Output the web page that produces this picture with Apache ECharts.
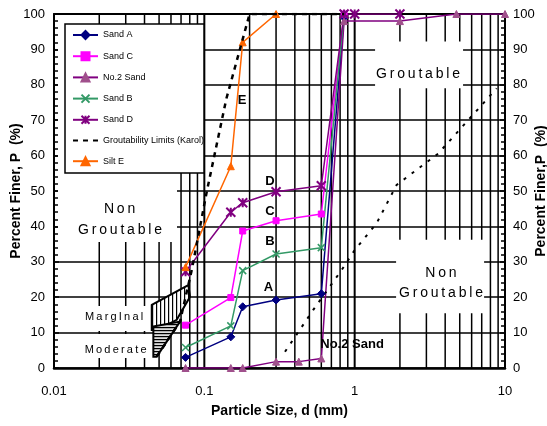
<!DOCTYPE html>
<html><head><meta charset="utf-8">
<script src="https://cdn.jsdelivr.net/npm/echarts@6/dist/echarts.min.js"></script>
<style>html,body{margin:0;padding:0;background:#fff}#c{width:547px;height:426px}</style>
</head><body><div id="c"></div>
<script>
// ---------- data ----------
const xTickLabels = ['0.01', '0.1', '1', '10'];
const gridSizes = [0.02,0.03,0.04,0.05,0.06,0.07,0.08,0.09,0.1,0.2,0.3,0.4,0.5,0.6,0.7,0.8,0.9,1,2,3,4,5,6,7,8,9];

const sizesABC = [0.075, 0.15, 0.18, 0.3, 0.6, 0.85];
const sandA = [3, 8.8, 17.3, 19.2, 21, 99];
const sandC = [12.1, 19.9, 38.7, 41.6, 43.5, 100];
const sandB = [5.8, 11.9, 27.5, 32.2, 34, 100];
const sizesD = [0.075, 0.15, 0.18, 0.3, 0.6, 0.85, 1.0, 2.0];
const sandD = [27.2, 44, 46.7, 49.8, 51.5, 100, 100, 100];
const sizesNo2 = [0.075, 0.15, 0.18, 0.3, 0.425, 0.6, 0.85, 2.0, 4.75, 10];
const no2Sand = [0, 0, 0, 1.8, 1.8, 2.7, 98, 98, 100, 100];
const sizesE = [0.075, 0.15, 0.18, 0.3];
const siltE = [28.5, 57, 92, 100];
const karolLeftSizes = [0.0482, 0.0689, 0.0725, 0.0825, 0.104, 0.14, 0.2, 0.85];
const karolLeft = [3.2, 13.1, 17.3, 27.7, 50, 76, 100, 100];
const karolRightSizes = [0.344, 0.53, 0.82, 1.0, 1.4, 1.9, 3.6, 8.8];
const karolRight = [4.6, 16.4, 27.7, 33.3, 40.9, 51.7, 60.6, 79];
const hatchMarginal = [[0.0447,17.8],[0.0783,23.4],[0.0803,20.1],[0.0655,13.6],[0.0482,10.7],[0.0447,10.7]];
const hatchModerate = [[0.0458,11.7],[0.0689,13.1],[0.0482,3.2],[0.0458,3.2]];

const zip = (xs, ys) => xs.map((x, i) => [x, ys[i]]);

// ---------- helpers ----------
function makePattern(vertical, spacing, bg) {
  const c = document.createElement('canvas');
  c.width = spacing; c.height = spacing;
  const ctx = c.getContext('2d');
  if (bg) { ctx.fillStyle = bg; ctx.fillRect(0, 0, spacing, spacing); }
  ctx.fillStyle = '#000';
  if (vertical) ctx.fillRect(0, 0, 1.2, spacing); else ctx.fillRect(0, 0, spacing, 1.2);
  return c;
}
const spaced = s => s.split('').join('\u2009');
const SANS = '"Liberation Sans", Arial, sans-serif';

const masks = [
  [0.01063, 0.0658, 35.6, 97.2],
  [1.367, 5.26, 79.0, 92.2],
  [1.886, 7.26, 15.5, 36.2],
  [0.01063, 0.0442, 10.45, 17.5],
  [0.01063, 0.0442, 2.8, 9.6]
];
const regionTexts = [
  ['Groutable', 2.64, 83.0, 14],
  ['Non', 3.75, 26.9, 14],
  ['Groutable', 3.75, 21.1, 14],
  ['Non', 0.0273, 44.8, 14],
  ['Groutable', 0.0275, 39.0, 14],
  ['MargInal', 0.0251, 14.5, 11],
  ['Moderate', 0.0257, 5.1, 11]
];
const curveTexts = [
  ['E', 0.178, 75.7], ['D', 0.2736, 52.6], ['C', 0.2736, 44.2],
  ['B', 0.2736, 35.7], ['A', 0.2666, 22.7], ['No.2 Sand', 0.961, 6.8]
];

const chart = echarts.init(document.getElementById('c'), null, {renderer: 'canvas'});

function lineSeries(name, data, color, symbol, size, extra) {
  return Object.assign({
    name, type: 'line', data, symbol, symbolSize: size, z: 4,
    lineStyle: {color, width: 1.5},
    itemStyle: {color, borderColor: color, borderWidth: 1},
    emphasis: {disabled: true}
  }, extra || {});
}

const option = {
  animation: false,
  backgroundColor: '#fff',
  grid: {left: 54, right: 42, top: 14, bottom: 58, containLabel: false, outerBoundsMode: 'none'},
  legend: {
    data: ['Sand A', 'Sand C', 'No.2 Sand', 'Sand B', 'Sand D',
      {name: 'Groutability Limits (Karol)', itemStyle: {color: 'rgba(0,0,0,0)', borderColor: 'rgba(0,0,0,0)', borderWidth: 0}},
      'Silt E'],
    orient: 'vertical', left: 72, top: 30, padding: 0,
    itemWidth: 25, itemHeight: 10, itemGap: 11.2, z: 12,
    textStyle: {fontFamily: SANS, fontSize: 9, color: '#000'},
    selectedMode: false
  },
  graphic: [{
    type: 'rect', z: 10, shape: {x: 65, y: 24, width: 139, height: 149},
    style: {fill: '#fff', stroke: '#000', lineWidth: 1.5}
  }],
  xAxis: [{
    type: 'log', logBase: 10, min: 0.01, max: 10, position: 'bottom',
    axisLine: {show: true, lineStyle: {color: '#000', width: 2.5}},
    axisTick: {show: false}, splitLine: {show: false},
    axisLabel: {margin: 17, fontFamily: SANS, fontSize: 13, color: '#000',
      formatter: v => { const s = xTickLabels.find(t => Math.abs(+t - v) < v * 1e-6); return s || ''; }},
    name: 'Particle Size, d (mm)', nameLocation: 'middle', nameGap: 36, nameMoveOverlap: false,
    nameTextStyle: {fontFamily: SANS, fontWeight: 'bold', fontSize: 14, color: '#000'}
  }, {
    type: 'log', logBase: 10, min: 0.01, max: 10, position: 'top',
    axisLine: {show: true, onZero: false, lineStyle: {color: '#000', width: 2}},
    axisTick: {show: false}, axisLabel: {show: false}, splitLine: {show: false}
  }],
  yAxis: [{
    type: 'value', min: 0, max: 100, interval: 10, position: 'left',
    axisLine: {show: true, lineStyle: {color: '#000', width: 2}},
    axisTick: {show: true, inside: true, length: 5, lineStyle: {color: '#000', width: 1.5}},
    minorTick: {show: true, splitNumber: 5, length: 4, lineStyle: {color: '#000', width: 1.5}},
    splitLine: {show: true, lineStyle: {color: '#000', width: 1.5}},
    axisLabel: {margin: 9, fontFamily: SANS, fontSize: 13, color: '#000'},
    name: 'Percent Finer, P  (%)', nameLocation: 'middle', nameGap: 31, nameRotate: 90, nameMoveOverlap: false,
    nameTextStyle: {fontFamily: SANS, fontWeight: 'bold', fontSize: 14, color: '#000'}
  }, {
    type: 'value', min: 0, max: 100, interval: 10, position: 'right',
    axisLine: {show: true, lineStyle: {color: '#000', width: 2}},
    axisTick: {show: true, inside: true, length: 5, lineStyle: {color: '#000', width: 1.5}},
    minorTick: {show: true, splitNumber: 5, length: 4, lineStyle: {color: '#000', width: 1.5}},
    splitLine: {show: false},
    axisLabel: {margin: 8, fontFamily: SANS, fontSize: 13, color: '#000'},
    name: 'Percent Finer,P  (%)', nameLocation: 'middle', nameGap: 29, nameRotate: 90, nameMoveOverlap: false,
    nameTextStyle: {fontFamily: SANS, fontWeight: 'bold', fontSize: 14, color: '#000'}
  }],
  series: [
    {
      name: 'grid-v', type: 'custom', z: 1, silent: true,
      data: gridSizes.map(v => [v, 0]),
      renderItem: (params, api) => {
        const x = api.value(0);
        const p0 = api.coord([x, 0]), p1 = api.coord([x, 100]);
        const major = Math.abs(Math.log10(x) - Math.round(Math.log10(x))) < 1e-6;
        return {type: 'line', shape: {x1: p0[0], y1: p0[1], x2: p1[0], y2: p1[1]},
          style: {stroke: '#000', lineWidth: major ? 2 : 1.5}};
      }
    },
    {
      name: 'masks', type: 'custom', z: 2, silent: true,
      data: [[1, 50]],
      renderItem: (params, api) => {
        const children = [];
        masks.forEach(m => {
          const a = api.coord([m[0], m[3]]), b = api.coord([m[1], m[2]]);
          children.push({type: 'rect', shape: {x: a[0], y: a[1], width: b[0] - a[0], height: b[1] - a[1]},
            style: {fill: '#fff'}});
        });
        regionTexts.forEach(t => {
          const p = api.coord([t[1], t[2]]);
          children.push({type: 'text', style: {text: spaced(t[0]), x: p[0], y: p[1], align: 'center', verticalAlign: 'middle',
            font: t[3] + 'px ' + SANS, fill: '#000'}});
        });
        return {type: 'group', children};
      }
    },
    {
      name: 'hatch', type: 'custom', z: 3, silent: true,
      data: [[1, 50]],
      renderItem: (params, api) => {
        const pm = hatchMarginal.map(p => api.coord(p));
        const pd = hatchModerate.map(p => api.coord(p));
        return {type: 'group', children: [
          {type: 'polygon', shape: {points: pm}, style: {fill: {image: makePattern(true, 4, '#fff'), repeat: 'repeat'}, stroke: '#000', lineWidth: 2}},
          {type: 'polygon', shape: {points: pd}, style: {fill: {image: makePattern(false, 3, '#ddd'), repeat: 'repeat'}, stroke: '#000', lineWidth: 2}}
        ]};
      }
    },
    lineSeries('Sand A', zip(sizesABC, sandA), '#000080', 'diamond', 8),
    lineSeries('Sand C', zip(sizesABC, sandC), '#FF00FF', 'rect', 6),
    lineSeries('No.2 Sand', zip(sizesNo2, no2Sand), '#800080', 'triangle', 7,
      {itemStyle: {color: '#A0508C', borderColor: '#A0508C', borderWidth: 1}}),
    lineSeries('Sand B', zip(sizesABC, sandB), '#339966', 'path://M0,0L10,10M10,0L0,10', 7,
      {itemStyle: {color: '#339966', borderColor: '#339966', borderWidth: 1.5}}),
    lineSeries('Sand D', zip(sizesD, sandD), '#800080', 'path://M0,0L10,10M10,0L0,10M5,0L5,10', 9,
      {itemStyle: {color: '#800080', borderColor: '#800080', borderWidth: 2}}),
    {
      name: 'Groutability Limits (Karol)', type: 'line', z: 5, symbol: 'none',
      data: zip(karolLeftSizes, karolLeft),
      lineStyle: {color: '#000', width: 2.5, type: [5, 5]}, itemStyle: {color: '#000'},
      emphasis: {disabled: true}
    },
    {
      name: 'Karol right', type: 'line', z: 4, symbol: 'none',
      data: zip(karolRightSizes, karolRight),
      lineStyle: {color: '#000', width: 2, type: [3, 7]}, itemStyle: {color: '#000'},
      emphasis: {disabled: true}
    },
    lineSeries('Silt E', zip(sizesE, siltE), '#FF6600', 'triangle', 7),
    {
      name: 'labels', type: 'custom', z: 6, silent: true,
      data: [[1, 50]],
      renderItem: (params, api) => ({
        type: 'group',
        children: curveTexts.map(t => {
          const p = api.coord([t[1], t[2]]);
          return {type: 'text', style: {text: t[0], x: p[0], y: p[1], align: 'center', verticalAlign: 'middle',
            font: 'bold 13px ' + SANS, fill: '#000'}};
        })
      })
    }
  ]
};
chart.setOption(option);
</script>
</body></html>
